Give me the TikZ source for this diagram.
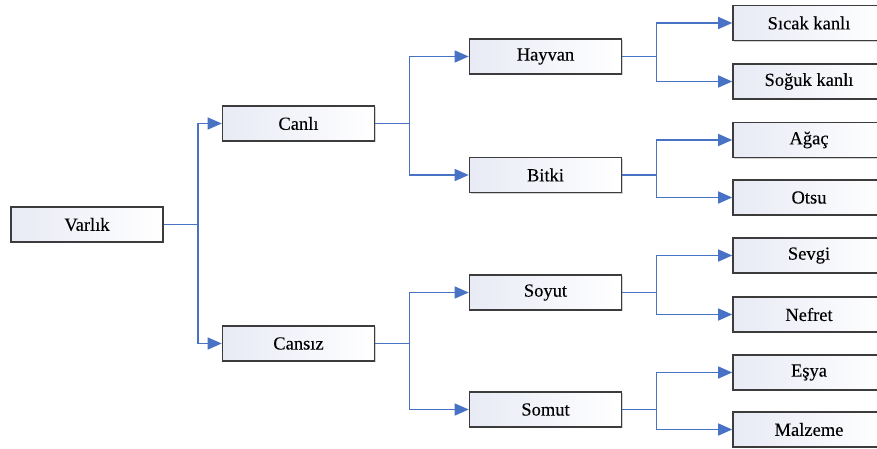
\documentclass[tikz,border=0pt]{standalone}
\usepackage{fontspec}
\setmainfont{Liberation Serif}
\newfontfamily\boxfont{Liberation Serif}[FakeBold=0.15]
\usetikzlibrary{arrows.meta,shadows}
\definecolor{linkblue}{RGB}{72,114,196}
\definecolor{boxedge}{RGB}{60,60,60}
\definecolor{boxtint}{RGB}{232,234,245}
\tikzset{
  box/.style={draw=boxedge, line width=1.6pt, left color=boxtint, right color=white,
    minimum width=152pt, minimum height=35pt, inner sep=0pt,
    font=\boxfont\fontsize{18.5}{20}\selectfont,
    drop shadow={shadow xshift=1pt, shadow yshift=-1pt, fill=black!35, opacity=0.5}},
  link/.style={draw=linkblue, line width=1.4pt, -{Triangle[length=14pt,width=12pt]}},
}
\begin{document}
\begin{tikzpicture}[x=1pt,y=-1pt]
  \useasboundingbox (0,0) rectangle (877,448);
  \clip (0,0) rectangle (877,448);
  % root
  \node[box] (varlik) at (87,224.5) {Varlık};
  % first level
  \node[box] (canli)  at (298.5,123.5) {Canlı};
  \node[box] (cansiz) at (298.5,343.5) {Cansız};
  % second level
  \node[box] (hayvan) at (545.5,56.5)  {Hayvan};
  \node[box] (bitki)  at (545.5,175)   {Bitki};
  \node[box] (soyut)  at (545.5,292.5) {Soyut};
  \node[box] (somut)  at (545.5,409.5) {Somut};
  % leaves
  \node[box] (sicak)   at (809,23)    {Sıcak kanlı};
  \node[box] (soguk)   at (809,81.5)  {Soğuk kanlı};
  \node[box] (agac)    at (809,140)   {Ağaç};
  \node[box] (otsu)    at (809,197.5) {Otsu};
  \node[box] (sevgi)   at (809,255.5) {Sevgi};
  \node[box] (nefret)  at (809,314.5) {Nefret};
  \node[box] (esya)    at (809,372.5) {Eşya};
  \node[box] (malzeme) at (809,429.5) {Malzeme};
  % elbow connectors
  \foreach \p/\c in {varlik/canli, varlik/cansiz,
                     canli/hayvan, canli/bitki, cansiz/soyut, cansiz/somut,
                     hayvan/sicak, hayvan/soguk, bitki/agac, bitki/otsu,
                     soyut/sevgi, soyut/nefret, somut/esya, somut/malzeme}
    \draw[link] (\p.east) -- ++(34,0) |- (\c.west);
\end{tikzpicture}
\end{document}
